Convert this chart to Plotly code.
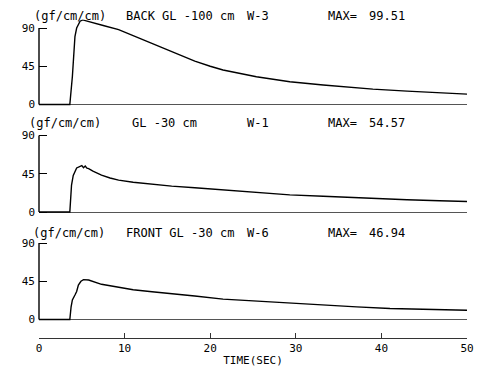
import plotly.graph_objects as go

# ---------------- data ----------------
t_back = [0, 3.6, 3.9, 4.2, 4.4, 4.8, 5.1, 5.8, 7.5, 9.3, 11.2, 13.2, 15.9, 18.2, 20.0,
          21.5, 25.4, 29.3, 33.2, 36.3, 39.0, 43.0, 46.8, 50]
v_back = [0, 0, 33, 80, 90, 98, 99.51, 97.8, 93, 88, 80, 72, 60, 51, 45,
          40.6, 32.7, 26.8, 22.9, 20.1, 18.1, 15.7, 13.7, 12.2]

t_mid = [0, 3.6, 3.8, 4.0, 4.4, 4.8, 5.0, 5.2, 5.4, 5.6, 5.8, 6.3, 7.3, 8.3, 9.3, 11.0,
         13.2, 15.5, 18.2, 21.5, 25.4, 29.3, 33.2, 36.3, 39.0, 43.0, 46.8, 50]
v_mid = [0, 0, 31.7, 43, 51.8, 53.5, 54.57, 52, 54, 51.5, 51, 48, 43.3, 40, 37.5, 35,
         32.5, 30.5, 28.6, 25.9, 22.8, 20.1, 18.5, 17.0, 15.8, 14.4, 13.2, 12.3]

t_front = [0, 3.6, 3.75, 3.9, 4.2, 4.4, 4.6, 4.9, 5.2, 5.5, 5.8, 7.3, 9.3, 11.0, 13.2,
           15.5, 18.2, 21.5, 25.4, 29.3, 33.2, 37.1, 41.0, 44.9, 50]
v_front = [0, 0, 15, 23, 28.8, 33, 40.6, 45, 46.94, 46.8, 46.5, 41.4, 37.5, 35, 32.7,
           30, 27.6, 24, 21.7, 18.9, 16.9, 14.9, 13.0, 11.8, 10.8]

units = ["(gf/cm/cm)", "(gf/cm/cm)", "(gf/cm/cm)"]
locations = ["BACK GL -100 cm", "GL -30 cm", "FRONT GL -30 cm"]
wells = ["W-3", "W-1", "W-6"]
max_values = ["99.51", "54.57", "46.94"]
y_ticks = [0, 45, 90]
x_ticks = [0, 10, 20, 30, 40, 50]
x_title = "TIME(SEC)"

series = [(t_back, v_back), (t_mid, v_mid), (t_front, v_front)]

# ---------------- layout helpers ----------------
# The page body has an 8px margin, so the figure is drawn 8px right/down.
OFF = 8
PAGE_W, PAGE_H = 482, 371
W, H = PAGE_W - OFF, PAGE_H - OFF
PL, PR = 39, 467            # plot area left/right in page pixels
ML, MR, MT, MB = PL - OFF, PAGE_W - PR, 0, 0
PW, PH = W - ML - MR, H - MT - MB


def fx(px):
    return (px - PL) / PW


def fy(py):
    return (H - MB - (py - OFF)) / PH


# panel pixel extents (top, bottom) in page pixels
panels = [(19.5, 106.2), (127.0, 213.7), (234.5, 321.2)]
title_y = [16.5, 122.7, 232.7]
loc_x = [124, 130, 124]
unit_x = [32, 27, 31]

MONO = "DejaVu Sans Mono"

fig = go.Figure()
layout = dict(
    width=W, height=H,
    margin=dict(l=ML, r=MR, t=MT, b=MB, autoexpand=False),
    paper_bgcolor="white", plot_bgcolor="white",
    showlegend=False,
    font=dict(family=MONO, size=11, color="black"),
)

annotations = []
shapes = []
for i, (tt, vv) in enumerate(series):
    n = "" if i == 0 else str(i + 1)
    fig.add_trace(go.Scatter(x=tt, y=vv, mode="lines",
                             line=dict(color="black", width=1.4),
                             xaxis="x" + n, yaxis="y" + n, hoverinfo="skip"))
    top, bot = panels[i]
    last = i == 2
    xa = dict(
        range=[0, 50], domain=[0, 1], showgrid=False, zeroline=False,
        anchor=("free" if last else "y" + n),
    )
    if last:
        xa.update(position=fy(338), showline=True, linecolor="#333", linewidth=1,
                  ticks="inside", ticklen=5, tickcolor="#333", tickvals=x_ticks,
                  ticktext=[str(v) for v in x_ticks], tickfont=dict(family=MONO, size=11),
                  title=dict(text=x_title, font=dict(family=MONO, size=11), standoff=2))
    else:
        xa.update(showline=False, showticklabels=False, ticks="")
    ya = dict(
        range=[-2, 100], domain=[fy(bot), fy(top)], anchor="x" + n,
        showgrid=False, showline=False, zeroline=True, zerolinecolor="#555",
        zerolinewidth=1, ticks="inside", ticklen=8, tickcolor="black",
        tickvals=y_ticks, ticktext=[str(v) for v in y_ticks],
        tickfont=dict(family=MONO, size=11), ticklabelstandoff=3,
    )
    layout["xaxis" + n] = xa
    layout["yaxis" + n] = ya
    shapes.append(dict(type="line", xref="paper", yref="y" + n, x0=0, x1=0,
                       y0=y_ticks[0], y1=y_ticks[-1], line=dict(color="black", width=1.4)))
    yt = fy(title_y[i])
    for txt, px in [(units[i], unit_x[i]), (locations[i], loc_x[i]), (wells[i], 245),
                    ("MAX=", 326), (max_values[i], 367)]:
        annotations.append(dict(text=txt, xref="paper", yref="paper", x=fx(px), y=yt,
                                xanchor="left", yanchor="middle", showarrow=False,
                                font=dict(family=MONO, size=12, color="black")))

layout["annotations"] = annotations
layout["shapes"] = shapes
fig.update_layout(**layout)
fig.write_html("out.html")
